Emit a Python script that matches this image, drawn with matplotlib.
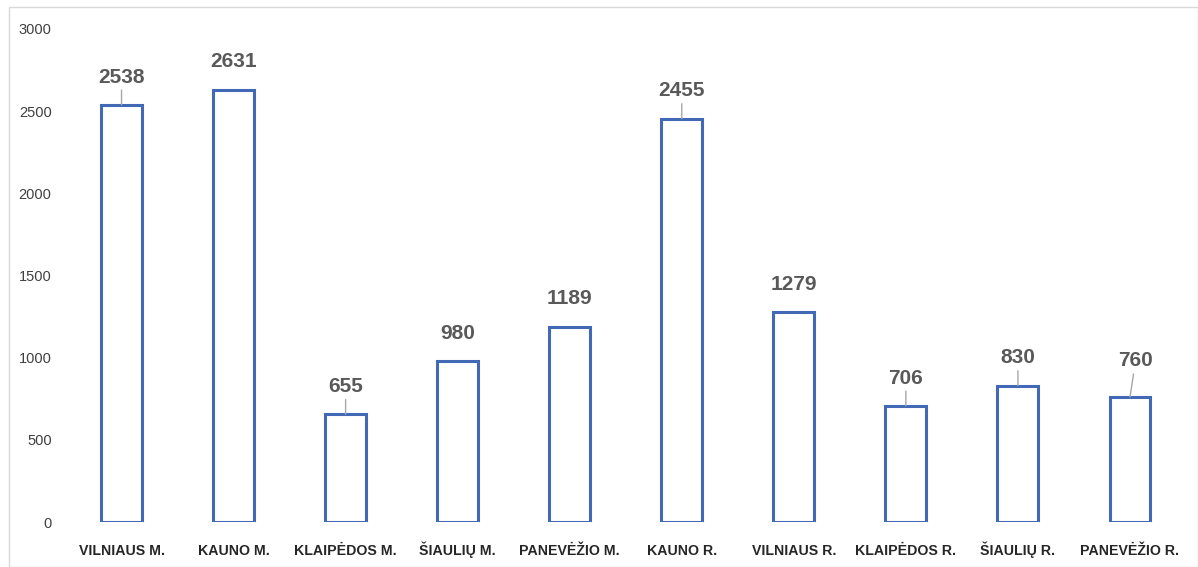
import matplotlib.pyplot as plt
from matplotlib.patches import Rectangle

# Duomenys
categories = ['VILNIAUS M.', 'KAUNO M.', 'KLAIPĖDOS M.', 'ŠIAULIŲ M.', 'PANEVĖŽIO M.',
              'KAUNO R.', 'VILNIAUS R.', 'KLAIPĖDOS R.', 'ŠIAULIŲ R.', 'PANEVĖŽIO R.']
values = [2538, 2631, 655, 980, 1189, 2455, 1279, 706, 830, 760]
yticks = [0, 500, 1000, 1500, 2000, 2500, 3000]
# kuriems stulpeliams piešiama jungiamoji linija iki etiketės
leader = [True, False, True, False, False, True, False, True, True, True]

plt.rcParams['font.family'] = ['Liberation Sans', 'DejaVu Sans']

fig = plt.figure(figsize=(11.98, 5.67), dpi=100)
ax = fig.add_axes([65.5 / 1198, 45 / 567, (1186 - 65.5) / 1198, (522 - 29) / 567])

x = range(len(categories))
ax.bar(x, values, width=0.365, facecolor='white', edgecolor='#4169b5', linewidth=2.2)

ax.set_xlim(-0.5, len(categories) - 0.5)
ax.set_ylim(0, 3000)
ax.set_yticks(yticks)
ax.set_xticks(list(x))
ax.set_xticklabels(categories, fontsize=10.2, fontweight='bold', color='#262626')
for lab in ax.get_xticklabels():
    lab.set_verticalalignment('baseline')
ax.tick_params(axis='y', length=0, pad=10, labelsize=10.5, labelcolor='#404040')
ax.tick_params(axis='x', length=0, pad=23.5)
for s in ax.spines.values():
    s.set_visible(False)

# Reikšmių etiketės
for i, v in enumerate(values):
    dx = 4 if i == len(values) - 1 else 0
    dy = 26 if i == len(values) - 1 else 20
    arrow = dict(arrowstyle='-', color='#a6a6a6', lw=1, shrinkA=0.5, shrinkB=0) if leader[i] else None
    ax.annotate(str(v), xy=(i, v), xytext=(dx, dy), textcoords='offset points',
                ha='center', va='center', fontsize=15, fontweight='bold', color='#595959',
                arrowprops=arrow)

# Rėmelis aplink diagramą
fig.patches.append(Rectangle((8.5 / 1198, 0), 1 - 8.5 / 1198, 1 - 6.5 / 567, transform=fig.transFigure,
                             fill=False, edgecolor='#d9d9d9', linewidth=1))

fig.savefig('out.png', dpi=100)
